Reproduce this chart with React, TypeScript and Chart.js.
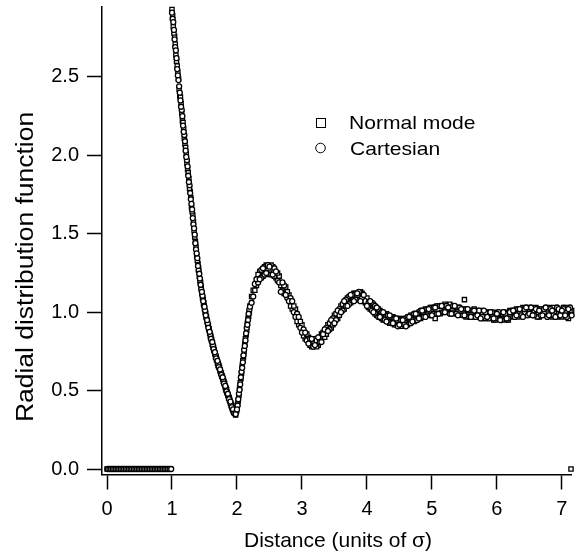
import React, { useEffect, useRef } from "react";
import { Chart, registerables } from "chart.js";

Chart.register(...registerables);

const FONT = '"Liberation Sans", Arial, Helvetica, sans-serif';

const xTicks = [0, 1, 2, 3, 4, 5, 6, 7];
const yTicks = [0, 0.5, 1.0, 1.5, 2.0, 2.5];
const xTitle = "Distance (units of σ)";
const yTitle = "Radial distribution function";
const seriesNames = ["Normal mode", "Cartesian"];

// ---- Normal mode (squares) ----
// r = 0.000 .. 0.975, step 0.025
const normalCore = [
  0, 0, 0, 0, 0, 0, 0, 0, 0, 0,
  0, 0, 0, 0, 0, 0, 0, 0, 0, 0,
  0, 0, 0, 0, 0, 0, 0, 0, 0, 0,
  0, 0, 0, 0, 0, 0, 0, 0, 0, 0,
];
// r = 1.00 .. 2.20, step 0.02
const normalFirstShell = [
  2.93, 2.82, 2.76, 2.64, 2.57, 2.49, 2.38, 2.33, 2.22, 2.17,
  2.07, 2.01, 1.91, 1.85, 1.77, 1.67, 1.62, 1.52, 1.45, 1.36,
  1.31, 1.23, 1.19, 1.12, 1.08, 1.02, 0.99, 0.94, 0.915, 0.865,
  0.84, 0.795, 0.775, 0.735, 0.715, 0.675, 0.66, 0.625, 0.61, 0.575,
  0.555, 0.52, 0.505, 0.47, 0.455, 0.42, 0.405, 0.37, 0.36, 0.345,
  0.39, 0.435, 0.515, 0.575, 0.655, 0.715, 0.795, 0.855, 0.93, 0.975,
  1.04,
];
// r = 1.01 .. 2.19, step 0.02
const normalFirstShellB = [
  2.89, 2.78, 2.71, 2.60, 2.53, 2.42, 2.37, 2.27, 2.21, 2.11,
  2.05, 1.95, 1.89, 1.79, 1.73, 1.64, 1.575, 1.48, 1.415, 1.33,
  1.28, 1.20, 1.16, 1.09, 1.06, 1.00, 0.97, 0.92, 0.895, 0.845,
  0.825, 0.78, 0.76, 0.715, 0.70, 0.66, 0.65, 0.61, 0.595, 0.56,
  0.545, 0.505, 0.49, 0.455, 0.44, 0.405, 0.39, 0.36, 0.355, 0.37,
  0.415, 0.47, 0.55, 0.61, 0.69, 0.75, 0.83, 0.885, 0.96, 1.00,
];
// r = 2.25 .. 7.15, step 0.05
const normalTail = [
  1.14, 1.17, 1.26, 1.23, 1.30, 1.25, 1.29, 1.22, 1.23, 1.14,
  1.16, 1.11, 1.02, 1.02, 0.92, 0.92, 0.83, 0.84, 0.78, 0.83,
  0.79, 0.86, 0.84, 0.92, 0.90, 0.98, 0.96, 1.04, 1.02, 1.09,
  1.06, 1.12, 1.08, 1.13, 1.07, 1.09, 1.02, 1.05, 0.98, 1.01,
  0.95, 0.99, 0.93, 0.97, 0.92, 0.96, 0.91, 0.96, 0.93, 0.98,
  0.95, 1.00, 0.97, 1.02, 0.98, 1.03, 0.96, 1.04, 1.00, 1.05,
  1.00, 1.04, 0.99, 1.03, 0.98, 1.08, 1.01, 0.97, 1.02, 0.97,
  1.01, 0.96, 1.00, 0.97, 0.95, 1.00, 0.96, 1.00, 0.95, 1.01,
  0.97, 1.02, 0.98, 1.03, 0.98, 1.02, 0.99, 1.03, 0.97, 1.02,
  0.98, 1.03, 0.97, 1.02, 1.00, 0.97, 1.03, 0.96, 1.01,
];
// r = 2.225 .. 7.125, step 0.05
const normalTailB = [
  1.10, 1.14, 1.24, 1.22, 1.29, 1.24, 1.30, 1.23, 1.25, 1.17,
  1.12, 1.13, 1.04, 1.04, 0.94, 0.94, 0.85, 0.86, 0.79, 0.83,
  0.78, 0.84, 0.87, 0.86, 0.93, 0.92, 0.99, 0.98, 1.05, 1.04,
  1.10, 1.07, 1.12, 1.08, 1.12, 1.06, 1.03, 1.06, 0.99, 1.02,
  0.96, 0.99, 0.94, 0.97, 0.92, 0.96, 0.91, 0.96, 0.92, 0.98,
  0.94, 0.99, 0.96, 1.01, 0.98, 1.03, 0.99, 1.04, 0.99, 1.04,
  1.00, 1.05, 1.00, 1.03, 0.98, 1.02, 0.97, 1.01, 0.97, 1.01,
  0.97, 1.00, 0.96, 1.00, 0.97, 0.95, 0.99, 0.96, 1.00, 0.95,
  1.00, 1.01, 0.97, 1.02, 0.99, 1.03, 0.98, 1.01, 0.97, 1.02,
  1.00, 1.02, 0.98, 1.03, 0.97, 1.01, 1.03, 0.98, 1.01,
];
const normalStrayR = [7.14];
const normalStrayG = [0];

// ---- Cartesian (circles) ----
// r = 0.0125 .. 0.9875, step 0.025
const cartesianCore = [
  0, 0, 0, 0, 0, 0, 0, 0, 0, 0,
  0, 0, 0, 0, 0, 0, 0, 0, 0, 0,
  0, 0, 0, 0, 0, 0, 0, 0, 0, 0,
  0, 0, 0, 0, 0, 0, 0, 0, 0, 0,
];
// r = 1.01 .. 2.19, step 0.02
const cartesianFirstShell = [
  2.87, 2.80, 2.69, 2.62, 2.51, 2.44, 2.35, 2.29, 2.19, 2.13,
  2.03, 1.97, 1.87, 1.81, 1.72, 1.655, 1.56, 1.495, 1.40, 1.345,
  1.265, 1.215, 1.145, 1.105, 1.045, 1.01, 0.96, 0.93, 0.885, 0.86,
  0.815, 0.79, 0.75, 0.73, 0.69, 0.675, 0.64, 0.62, 0.585, 0.57,
  0.535, 0.52, 0.48, 0.465, 0.43, 0.415, 0.38, 0.37, 0.35, 0.365,
  0.405, 0.48, 0.54, 0.62, 0.68, 0.76, 0.82, 0.90, 0.95, 1.015,
];
// r = 1.00 .. 2.20, step 0.02
const cartesianFirstShellB = [
  2.91, 2.85, 2.74, 2.67, 2.55, 2.48, 2.40, 2.31, 2.25, 2.15,
  2.09, 1.99, 1.93, 1.83, 1.76, 1.69, 1.60, 1.535, 1.44, 1.375,
  1.295, 1.245, 1.175, 1.13, 1.07, 1.035, 0.98, 0.95, 0.90, 0.875,
  0.83, 0.81, 0.765, 0.745, 0.705, 0.69, 0.65, 0.635, 0.60, 0.585,
  0.545, 0.53, 0.495, 0.48, 0.445, 0.43, 0.395, 0.38, 0.355, 0.35,
  0.38, 0.445, 0.505, 0.585, 0.645, 0.725, 0.785, 0.865, 0.92, 0.99,
  1.035,
];
// r = 2.225 .. 7.125, step 0.05
const cartesianTail = [
  1.06, 1.18, 1.19, 1.27, 1.24, 1.30, 1.24, 1.28, 1.20, 1.13,
  1.17, 1.09, 1.09, 1.00, 0.99, 0.90, 0.89, 0.82, 0.83, 0.78,
  0.82, 0.81, 0.86, 0.90, 0.89, 0.96, 0.95, 1.02, 1.01, 1.08,
  1.05, 1.11, 1.08, 1.13, 1.09, 1.07, 1.06, 1.01, 1.04, 0.97,
  1.00, 0.95, 0.98, 0.93, 0.96, 0.91, 0.95, 0.92, 0.97, 0.93,
  0.99, 0.95, 1.01, 0.97, 1.02, 0.98, 1.03, 0.99, 1.04, 1.00,
  1.04, 0.99, 1.04, 0.99, 1.03, 0.98, 1.02, 0.97, 1.01, 0.97,
  1.01, 0.97, 1.00, 0.96, 1.00, 0.96, 1.00, 0.95, 0.99, 0.96,
  1.01, 0.97, 1.02, 0.98, 1.02, 0.98, 1.03, 0.98, 1.02, 0.98,
  1.02, 0.97, 1.02, 0.98, 1.03, 0.98, 1.02, 0.97, 1.03,
];
// r = 2.25 .. 7.15, step 0.05
const cartesianTailB = [
  1.10, 1.21, 1.21, 1.28, 1.25, 1.29, 1.24, 1.26, 1.19, 1.19,
  1.11, 1.07, 1.07, 0.97, 0.97, 0.87, 0.87, 0.80, 0.83, 0.79,
  0.84, 0.81, 0.89, 0.88, 0.95, 0.93, 1.01, 1.00, 1.07, 1.04,
  1.11, 1.07, 1.12, 1.07, 1.11, 1.04, 1.07, 1.00, 1.03, 0.97,
  1.00, 0.94, 0.98, 0.93, 0.96, 0.92, 0.95, 0.91, 0.97, 0.94,
  0.99, 0.96, 1.01, 0.97, 1.02, 0.98, 1.03, 0.99, 1.04, 1.00,
  1.03, 0.99, 1.04, 0.98, 1.02, 0.98, 1.02, 0.97, 1.01, 0.98,
  0.96, 1.01, 0.97, 1.00, 0.96, 0.99, 0.95, 1.00, 0.96, 1.00,
  1.01, 0.98, 1.02, 0.97, 1.03, 0.99, 0.98, 1.02, 1.01, 0.98,
  1.03, 0.98, 1.01, 0.97, 1.02, 1.01, 0.98, 1.02, 0.98,
];

type Seg = { start: number; step: number; values: number[] };

const normalSegments: Seg[] = [
  { start: 0, step: 0.025, values: normalCore },
  { start: 1.0, step: 0.02, values: normalFirstShell },
  { start: 1.01, step: 0.02, values: normalFirstShellB },
  { start: 2.25, step: 0.05, values: normalTail },
  { start: 2.225, step: 0.05, values: normalTailB },
];
const cartesianSegments: Seg[] = [
  { start: 0.0125, step: 0.025, values: cartesianCore },
  { start: 1.01, step: 0.02, values: cartesianFirstShell },
  { start: 1.0, step: 0.02, values: cartesianFirstShellB },
  { start: 2.225, step: 0.05, values: cartesianTail },
  { start: 2.25, step: 0.05, values: cartesianTailB },
];

function toPoints(segs: Seg[]) {
  const pts: { x: number; y: number }[] = [];
  segs.forEach((s) =>
    s.values.forEach((g, i) => pts.push({ x: +(s.start + i * s.step).toFixed(4), y: g }))
  );
  return pts;
}

function drawStretched(
  ctx: CanvasRenderingContext2D,
  text: string,
  x: number,
  y: number,
  sx: number,
  align: CanvasTextAlign,
  rot = 0
) {
  ctx.save();
  ctx.translate(x, y);
  if (rot) ctx.rotate(rot);
  ctx.scale(sx, 1);
  ctx.textAlign = align;
  ctx.textBaseline = "alphabetic";
  ctx.fillText(text, 0, 0);
  ctx.restore();
}

const annotationPlugin = {
  id: "annotations",
  afterDraw(chart: any) {
    const ctx: CanvasRenderingContext2D = chart.ctx;
    ctx.save();
    ctx.fillStyle = "#000";
    ctx.strokeStyle = "#000";
    // y title
    ctx.font = `23px ${FONT}`;
    drawStretched(ctx, yTitle, 33, 267, 1.15, "center", -Math.PI / 2);
    // x title
    ctx.font = `21px ${FONT}`;
    drawStretched(ctx, xTitle, 338, 546.5, 1.0, "center");
    // legend
    ctx.lineWidth = 1;
    ctx.strokeRect(316.5, 118.5, 9, 9);
    ctx.beginPath();
    ctx.arc(320.5, 148, 4.8, 0, Math.PI * 2);
    ctx.stroke();
    ctx.font = `19px ${FONT}`;
    drawStretched(ctx, seriesNames[0], 349, 128.5, 1.11, "left");
    drawStretched(ctx, seriesNames[1], 350, 155, 1.11, "left");
    ctx.restore();
  },
};

export default function App() {
  const ref = useRef<HTMLCanvasElement | null>(null);

  useEffect(() => {
    document.body.style.margin = "0";
    const canvas = ref.current;
    if (!canvas) return;

    const normalPts = toPoints(normalSegments).concat(
      normalStrayR.map((r, i) => ({ x: r, y: normalStrayG[i] }))
    );
    const cartesianPts = toPoints(cartesianSegments);

    const chart = new Chart(canvas, {
      type: "scatter",
      data: {
        datasets: [
          {
            label: seriesNames[1],
            data: cartesianPts,
            pointStyle: "circle",
            pointRadius: 2.5,
            pointBorderWidth: 1.3,
            pointBackgroundColor: "#fff",
            pointBorderColor: "#000",
            showLine: false,
            clip: false as any,
          },
          {
            label: seriesNames[0],
            data: normalPts,
            pointStyle: "rect",
            pointRadius: 3.0,
            pointBorderWidth: 1.3,
            pointBackgroundColor: "#fff",
            pointBorderColor: "#000",
            showLine: false,
            clip: false as any,
          },
        ],
      },
      options: {
        animation: false,
        responsive: false,
        devicePixelRatio: 1,
        layout: { padding: { left: 0, right: 6, top: 7, bottom: 0 } },
        plugins: {
          legend: { display: false },
          tooltip: { enabled: false },
        },
        scales: {
          x: {
            type: "linear",
            min: -0.077,
            max: 7.14,
            afterBuildTicks: (axis: any) => {
              axis.ticks = xTicks.map((v) => ({ value: v }));
            },
            afterFit: (s: any) => {
              s.height = 78.5;
              s.paddingLeft = 0;
              s.paddingRight = 0;
            },
            ticks: {
              color: "#000",
              font: { size: 20, family: FONT },
              padding: 8,
              maxRotation: 0,
              autoSkip: false,
              callback: (v: any) => String(v),
            },
            grid: {
              display: true,
              drawOnChartArea: false,
              drawTicks: true,
              tickLength: 15,
              tickWidth: 1.5,
              tickColor: "#000",
            },
            border: { display: true, color: "#000", width: 1.5 },
          },
          y: {
            type: "linear",
            min: -0.035,
            max: 2.946,
            afterBuildTicks: (axis: any) => {
              axis.ticks = yTicks.map((v) => ({ value: v }));
            },
            afterFit: (s: any) => {
              s.width = 102;
              s.paddingTop = 0;
              s.paddingBottom = 0;
            },
            ticks: {
              color: "#000",
              font: { size: 20, family: FONT },
              padding: 8,
              autoSkip: false,
              callback: (v: any) => Number(v).toFixed(1),
            },
            grid: {
              display: true,
              drawOnChartArea: false,
              drawTicks: true,
              tickLength: 15,
              tickWidth: 1.5,
              tickColor: "#000",
            },
            border: { display: true, color: "#000", width: 1.5 },
          },
        },
      },
      plugins: [annotationPlugin],
    });

    return () => chart.destroy();
  }, []);

  return (
    <div style={{ width: 577, height: 553, background: "#fff" }}>
      <canvas ref={ref} width={577} height={553} style={{ display: "block" }} />
    </div>
  );
}
